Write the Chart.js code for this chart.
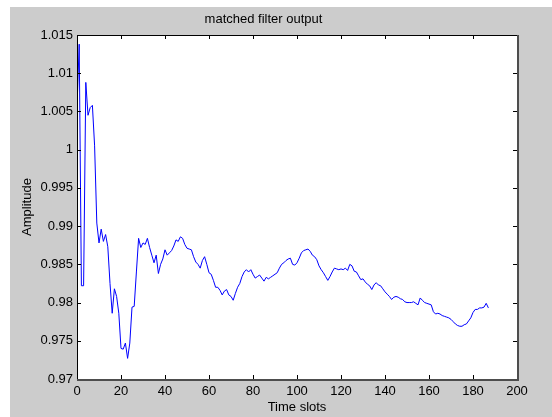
<!DOCTYPE html>
<html>
<head>
<meta charset="utf-8">
<title>matched filter output</title>
<script src="https://cdn.jsdelivr.net/npm/chart.js@4/dist/chart.umd.min.js"></script>
<style>
  html, body { margin: 0; padding: 0; background: #fff; }
  #wrap { width: 552px; height: 417px; }
</style>
</head>
<body>
<div id="wrap"><canvas id="mfChart" width="552" height="417"></canvas></div>
<script>
// matched filter output
var timeSlots = [
  0, 1, 2, 3, 4, 5, 6, 7, 8, 9,
  10, 11, 12, 13, 14, 15, 16, 17, 18, 19,
  20, 21, 22, 23, 24, 25, 26, 27, 28, 29,
  30, 31, 32, 33, 34, 35, 36, 37, 38, 39,
  40, 41, 42, 43, 44, 45, 46, 47, 48, 49,
  50, 51, 52, 53, 54, 55, 56, 57, 58, 59,
  60, 61, 62, 63, 64, 65, 66, 67, 68, 69,
  70, 71, 72, 73, 74, 75, 76, 77, 78, 79,
  80, 81, 82, 83, 84, 85, 86, 87, 88, 89,
  90, 91, 92, 93, 94, 95, 96, 97, 98, 99,
  100, 101, 102, 103, 104, 105, 106, 107, 108, 109,
  110, 111, 112, 113, 114, 115, 116, 117, 118, 119,
  120, 121, 122, 123, 124, 125, 126, 127, 128, 129,
  130, 131, 132, 133, 134, 135, 136, 137, 138, 139,
  140, 141, 142, 143, 144, 145, 146, 147, 148, 149,
  150, 151, 152, 153, 154, 155, 156, 157, 158, 159,
  160, 161, 162, 163, 164, 165, 166, 167, 168, 169,
  170, 171, 172, 173, 174, 175, 176, 177, 178, 179,
  180, 181, 182, 183, 184, 185, 186, 187
];
var amplitude = [
  1.0055, 1.0138, 0.9822, 0.9822, 1.0088, 1.0045, 1.0055, 1.0058, 1.0005, 0.9904,
  0.9878, 0.9896, 0.9880, 0.9889, 0.9873, 0.9825, 0.9786, 0.9818, 0.9808, 0.9786,
  0.9740, 0.9739, 0.9747, 0.9727, 0.9747, 0.9794, 0.9795, 0.9840, 0.9884, 0.9872,
  0.9878, 0.9876, 0.9884, 0.9872, 0.9862, 0.9852, 0.9862, 0.9838, 0.9850, 0.9857,
  0.9869, 0.9862, 0.9865, 0.9868, 0.9874, 0.9882, 0.9880, 0.9886, 0.9884, 0.9876,
  0.9871, 0.9870, 0.9869, 0.9860, 0.9853, 0.9850, 0.9845, 0.9855, 0.9860, 0.9850,
  0.9839, 0.9837, 0.9829, 0.9820, 0.9820, 0.9816, 0.9810, 0.9815, 0.9817, 0.9810,
  0.9808, 0.9803, 0.9812, 0.9820, 0.9825, 0.9834, 0.9840, 0.9843, 0.9840, 0.9843,
  0.9837, 0.9832, 0.9834, 0.9836, 0.9832, 0.9828, 0.9833, 0.9831, 0.9833, 0.9835,
  0.9837, 0.9839, 0.9845, 0.9850, 0.9852, 0.9855, 0.9857, 0.9858, 0.9850, 0.9849,
  0.9852, 0.9858, 0.9865, 0.9868, 0.9869, 0.9870, 0.9867, 0.9862, 0.9860, 0.9856,
  0.9848, 0.9843, 0.9839, 0.9834, 0.9829, 0.9834, 0.9840, 0.9845, 0.9844, 0.9843,
  0.9844, 0.9843, 0.9845, 0.9842, 0.9850, 0.9848, 0.9841, 0.9840, 0.9835, 0.9830,
  0.9831, 0.9827, 0.9824, 0.9822, 0.9817, 0.9823, 0.9826, 0.9823, 0.9822, 0.9818,
  0.9814, 0.9811, 0.9808, 0.9804, 0.9807, 0.9808, 0.9807, 0.9805, 0.9804, 0.9801,
  0.9800, 0.9800, 0.9800, 0.9801, 0.9799, 0.9797, 0.9806, 0.9803, 0.9800, 0.9799,
  0.9798, 0.9797, 0.9788, 0.9785, 0.9786, 0.9785, 0.9783, 0.9782, 0.9781, 0.9780,
  0.9778, 0.9775, 0.9772, 0.9770, 0.9769, 0.9769, 0.9771, 0.9772, 0.9776, 0.9780,
  0.9787, 0.9791, 0.9791, 0.9793, 0.9793, 0.9794, 0.9799, 0.9793
];
var xTicks = [0, 20, 40, 60, 80, 100, 120, 140, 160, 180, 200];
var yTicks = [0.97, 0.975, 0.98, 0.985, 0.99, 0.995, 1, 1.005, 1.01, 1.015];

var points = timeSlots.map(function(t, i) { return {x: t, y: amplitude[i]}; });

var labelFont = {family: '"Liberation Sans", Arial, sans-serif', size: 13, weight: 'normal'};

// grey figure, white axes box, inward ticks on all four sides
var matlabFrame = {
  id: 'matlabFrame',
  beforeDraw: function(chart) {
    var ctx = chart.ctx, a = chart.chartArea;
    ctx.save();
    ctx.fillStyle = '#cccccc';
    ctx.fillRect(10, 7, chart.width - 10, chart.height - 7);
    ctx.fillStyle = '#ffffff';
    ctx.fillRect(a.left, a.top, a.right - a.left, a.bottom - a.top);
    ctx.restore();
  },
  afterDraw: function(chart) {
    var ctx = chart.ctx, a = chart.chartArea;
    var xs = chart.scales.x, ys = chart.scales.y;
    ctx.save();
    ctx.strokeStyle = '#000';
    ctx.lineWidth = 1;
    ctx.beginPath();
    xTicks.forEach(function(v) {
      var px = Math.round(xs.getPixelForValue(v)) + 0.5;
      ctx.moveTo(px, a.bottom); ctx.lineTo(px, a.bottom - 4);
      ctx.moveTo(px, a.top); ctx.lineTo(px, a.top + 4);
    });
    yTicks.forEach(function(v) {
      var py = Math.round(ys.getPixelForValue(v)) + 0.5;
      ctx.moveTo(a.left, py); ctx.lineTo(a.left + 4, py);
      ctx.moveTo(a.right, py); ctx.lineTo(a.right - 4, py);
    });
    ctx.moveTo(a.left + 0.5, a.bottom);
    ctx.lineTo(a.left + 0.5, a.top + 0.5);
    ctx.lineTo(a.right, a.top + 0.5);
    ctx.stroke();
    ctx.fillStyle = '#4d4d4d';
    ctx.fillRect(a.left, a.bottom, a.right - a.left + 2, 2);
    ctx.fillRect(a.right, a.top, 2, a.bottom - a.top + 2);
    ctx.restore();
  }
};

var chart = new Chart(document.getElementById('mfChart'), {
  type: 'line',
  data: {
    datasets: [{
      data: points,
      borderColor: '#0000ff',
      borderWidth: 1,
      pointRadius: 0,
      tension: 0,
      fill: false
    }]
  },
  options: {
    responsive: false,
    animation: false,
    layout: {padding: {left: 10, right: 35, top: 0, bottom: 0}},
    plugins: {
      legend: {display: false},
      tooltip: {enabled: false},
      title: {
        display: true,
        text: 'matched filter output',
        color: '#000',
        font: labelFont,
        padding: {top: 12, bottom: 7.4}
      }
    },
    scales: {
      x: {
        type: 'linear',
        min: 0,
        max: 200,
        afterBuildTicks: function(s) { s.ticks = xTicks.map(function(v) { return {value: v}; }); },
        afterFit: function(s) { s.height = 38; },
        grid: {display: false, drawTicks: false},
        border: {display: false},
        ticks: {color: '#000', font: labelFont, padding: 5, maxRotation: 0, autoSkip: false},
        title: {display: true, text: 'Time slots', color: '#000', font: labelFont, padding: {top: 0, bottom: 2}}
      },
      y: {
        type: 'linear',
        min: 0.97,
        max: 1.015,
        afterBuildTicks: function(s) { s.ticks = yTicks.map(function(v) { return {value: v}; }); },
        afterFit: function(s) { s.width = 67; },
        grid: {display: false, drawTicks: false},
        border: {display: false},
        ticks: {
          color: '#000', font: labelFont, padding: 4, autoSkip: false,
          callback: function(v) { return String(+v.toFixed(3)); }
        },
        title: {display: true, text: 'Amplitude', color: '#000', font: labelFont, padding: {top: 10, bottom: 0}}
      }
    }
  },
  plugins: [matlabFrame]
});
</script>
</body>
</html>
